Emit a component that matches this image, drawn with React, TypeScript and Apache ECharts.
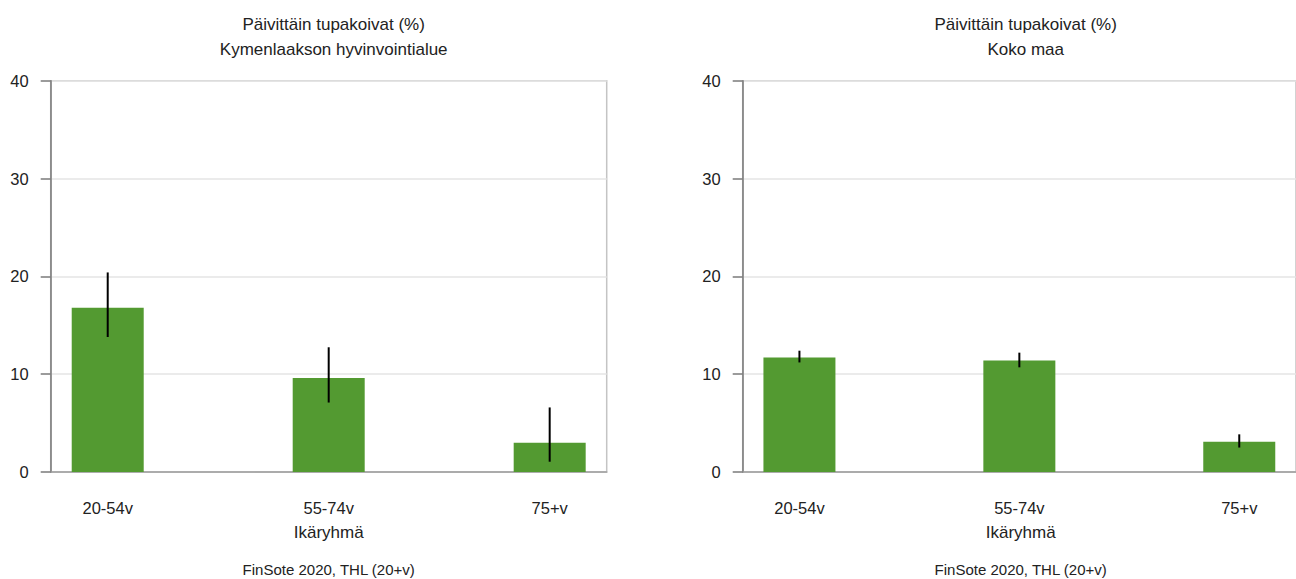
import React, { useEffect, useRef } from "react";
import * as echarts from "echarts";

const categories = ["20-54v", "55-74v", "75+v"];
const regionValues = [16.8, 9.6, 3.0];
const regionLow = [13.8, 7.1, 1.05];
const regionHigh = [20.4, 12.75, 6.6];
const countryValues = [11.7, 11.4, 3.1];
const countryLow = [11.2, 10.7, 2.5];
const countryHigh = [12.4, 12.2, 3.85];
const yTicks = [0, 10, 20, 30, 40];
const titleMain = "Päivittäin tupakoivat (%)";
const panelNames = ["Kymenlaakson hyvinvointialue", "Koko maa"];
const axisName = "Ikäryhmä";
const source = "FinSote 2020, THL (20+v)";

const FONT = "'Liberation Sans', Arial, sans-serif";
const GREEN = "#539a31";

export default function App() {
  const ref = useRef<HTMLDivElement>(null);
  useEffect(() => {
    document.body.style.margin = "0";
    const chart = echarts.init(ref.current!, undefined, { renderer: "svg" });
    const gridLefts = [50.7, 742.7];
    const gridTop = 80.7;
    const gridW = 556;
    const gridH = 391.3;

    const grids = gridLefts.map((l) => ({
      left: l,
      top: gridTop,
      width: gridW,
      height: gridH,
      show: true,
      borderColor: "#c4c4c4",
      borderWidth: 1.5,
      backgroundColor: "transparent",
    }));

    const xAxes = gridLefts.map((_, i) => ({
      type: "value",
      gridIndex: i,
      min: -0.258,
      max: 2.258,
      axisLine: { show: true, onZero: false, lineStyle: { color: "#9a9a9a", width: 1.5 } },
      axisTick: { show: false },
      splitLine: { show: false },
      axisLabel: {
        customValues: [0, 1, 2],
        formatter: (v: number) => categories[Math.round(v)] ?? "",
        margin: 27,
        fontSize: 16.5,
        fontFamily: FONT,
        color: "#222",
      },
    }));

    const yAxes = gridLefts.map((_, i) => ({
      type: "value",
      gridIndex: i,
      min: yTicks[0],
      max: yTicks[yTicks.length - 1],
      interval: 10,
      axisLine: { show: true, onZero: false, lineStyle: { color: "#7a7a7a", width: 1.5 } },
      axisTick: { show: true, length: 10, lineStyle: { color: "#7a7a7a", width: 1.5 } },
      splitLine: { show: true, lineStyle: { color: "#e4e4e4", width: 1.5 } },
      axisLabel: { margin: 22, fontSize: 16.5, fontFamily: FONT, color: "#222" },
    }));

    const panels = [
      { vals: regionValues, low: regionLow, high: regionHigh },
      { vals: countryValues, low: countryLow, high: countryHigh },
    ];

    const series: any[] = [];
    panels.forEach((p, i) => {
      series.push({
        type: "bar",
        xAxisIndex: i,
        yAxisIndex: i,
        barWidth: 72,
        itemStyle: { color: GREEN },
        data: p.vals.map((v, k) => [k, v]),
      });
      series.push({
        type: "custom",
        xAxisIndex: i,
        yAxisIndex: i,
        z: 10,
        data: p.vals.map((_, k) => [k, p.low[k], p.high[k]]),
        renderItem: (params: any, api: any) => {
          const a = api.coord([api.value(0), api.value(1)]);
          const b = api.coord([api.value(0), api.value(2)]);
          return {
            type: "line",
            shape: { x1: a[0], y1: a[1], x2: b[0], y2: b[1] },
            style: { stroke: "#000", lineWidth: 2 },
          };
        },
      });
    });

    const titles = gridLefts.map((l, i) => ({
      text: titleMain + "\n" + panelNames[i],
      left: l + gridW / 2,
      top: 7,
      textAlign: "center",
      textStyle: {
        fontSize: 17,
        fontWeight: "normal",
        fontFamily: FONT,
        color: "#222",
        lineHeight: 25,
      },
    }));

    const graphics: any[] = [];
    gridLefts.forEach((l) => {
      const cx = l + gridW / 2;
      graphics.push({
        type: "text",
        x: cx,
        y: 532,
        style: {
          text: axisName,
          fontSize: 17,
          fontFamily: FONT,
          fill: "#222",
          textAlign: "center",
          textVerticalAlign: "middle",
        },
      });
      graphics.push({
        type: "text",
        x: cx,
        y: 569,
        style: {
          text: source,
          fontSize: 15,
          fontFamily: FONT,
          fill: "#222",
          textAlign: "center",
          textVerticalAlign: "middle",
        },
      });
    });

    chart.setOption({
      animation: false,
      backgroundColor: "#fff",
      title: titles,
      grid: grids,
      xAxis: xAxes,
      yAxis: yAxes,
      series,
      graphic: graphics,
    });
    return () => chart.dispose();
  }, []);
  return <div ref={ref} style={{ width: 1296, height: 579, overflow: "hidden" }} />;
}
